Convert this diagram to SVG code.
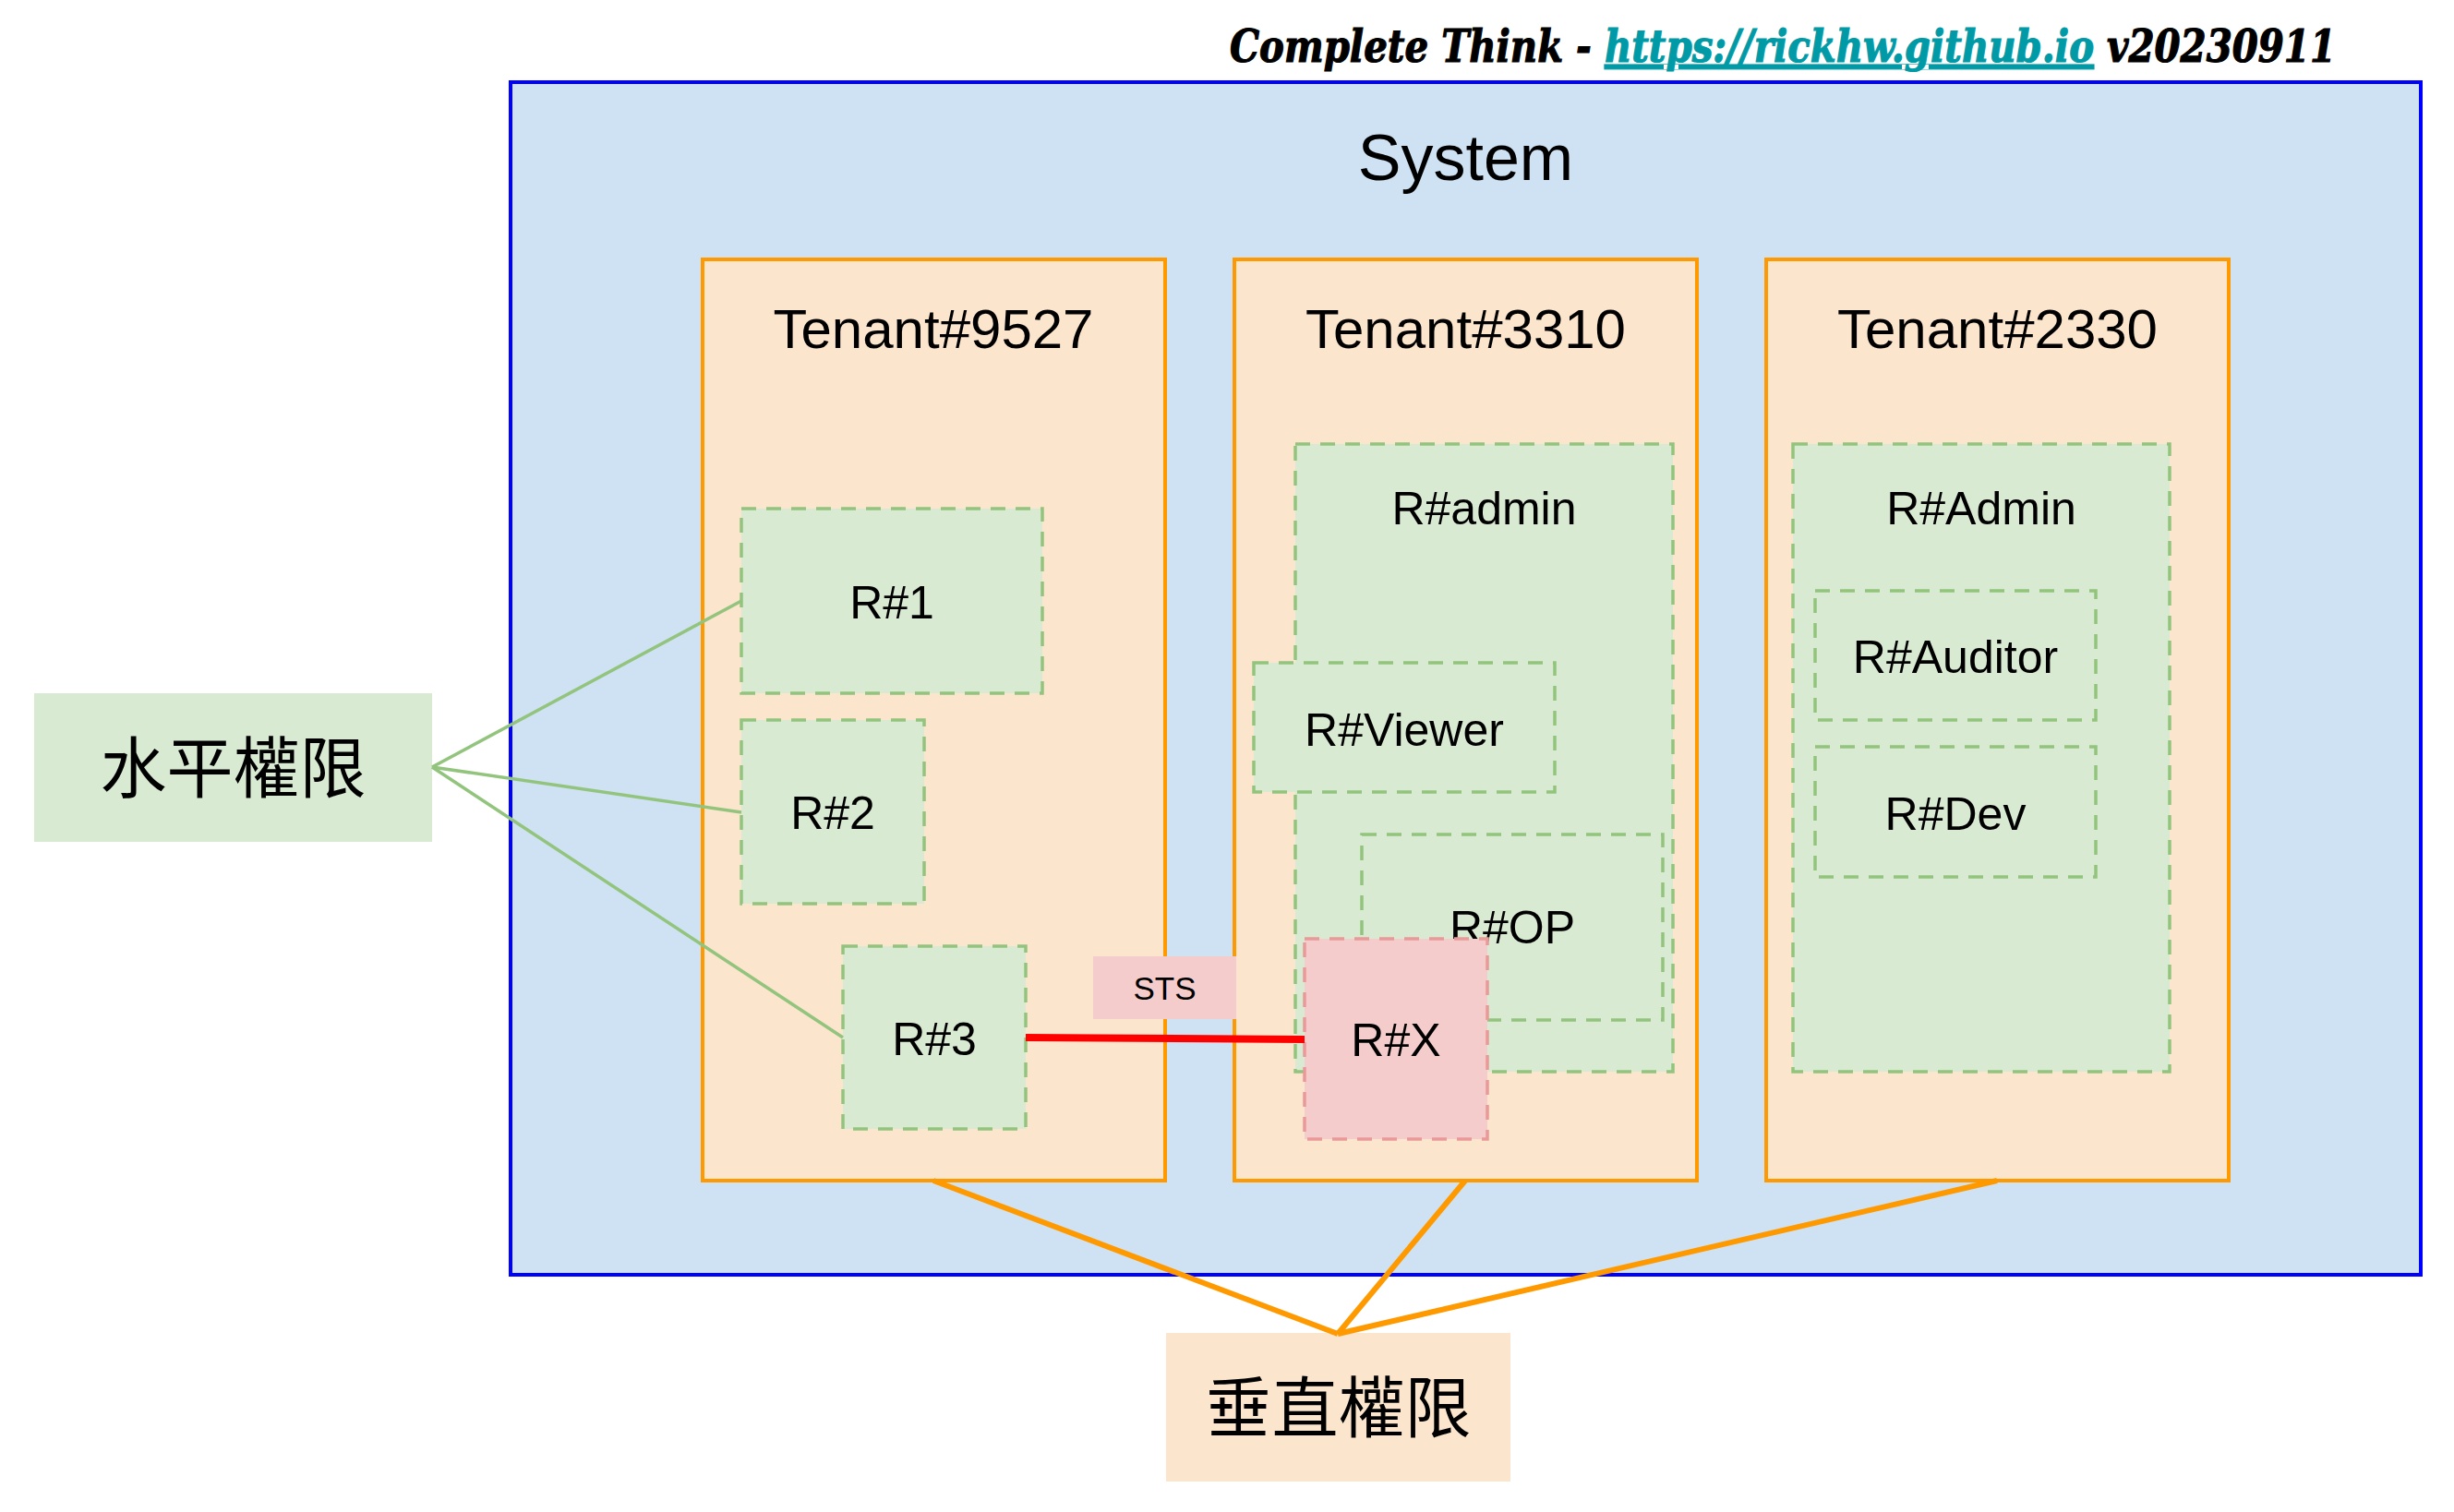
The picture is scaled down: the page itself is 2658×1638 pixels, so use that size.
<svg xmlns="http://www.w3.org/2000/svg" width="2658" height="1638" viewBox="0 0 2658 1638">
<style>
  .lbl { font-family: "Liberation Sans", Arial, sans-serif; fill: #000; text-anchor: middle; }
  .cjk { font-family: "Noto Sans CJK TC", "Noto Sans CJK SC", sans-serif; font-size: 72px; fill: #000; text-anchor: middle; }
  .title { font-family: "DejaVu Serif", serif; font-weight: bold; font-style: italic; font-size: 48px; stroke-width: 1.2; }
  .tenant { fill: #FCE5CD; stroke: #FF9900; stroke-width: 4; }
  .role { fill: #D9EAD3; stroke: #93C47D; stroke-width: 3.5; stroke-dasharray: 16 11; }
  .roleX { fill: #F4CCCC; stroke: #EA9999; stroke-width: 3.5; stroke-dasharray: 16 11; }
  .r { font-size: 50px; }
  .t { font-size: 60px; }
  .green { stroke: #93C47D; stroke-width: 3.5; fill: none; }
  .orange { stroke: #FF9900; stroke-width: 6; fill: none; }
</style>
<rect width="2658" height="1638" fill="#FFFFFF"/>

<g id="title">
  <text class="title" x="1332" y="67" textLength="1198" lengthAdjust="spacingAndGlyphs" fill="#000" stroke="#000">Complete Think - <tspan fill="#009AA6" stroke="#009AA6" text-decoration="underline">https://rickhw.github.io</tspan> v20230911</text>
</g>

<g id="system">
  <rect x="553" y="89" width="2069" height="1292" fill="#CFE2F3" stroke="#0000FF" stroke-width="4"/>
  <text class="lbl" x="1587.5" y="195" font-size="70">System</text>
</g>

<g id="tenant-9527">
  <rect class="tenant" x="761" y="281" width="501" height="998"/>
  <text class="lbl t" x="1011" y="377">Tenant#9527</text>
</g>
<g id="tenant-3310">
  <rect class="tenant" x="1337" y="281" width="501" height="998"/>
  <text class="lbl t" x="1587.5" y="377">Tenant#3310</text>
</g>
<g id="tenant-2330">
  <rect class="tenant" x="1913" y="281" width="501" height="998"/>
  <text class="lbl t" x="2163.5" y="377">Tenant#2330</text>
</g>

<g id="r1">
  <rect class="role" x="803" y="551" width="326" height="200"/>
  <text class="lbl r" x="966" y="670">R#1</text>
</g>
<g id="r2">
  <rect class="role" x="803" y="780" width="198" height="199"/>
  <text class="lbl r" x="902" y="898">R#2</text>
</g>
<g id="r3">
  <rect class="role" x="913" y="1025" width="198" height="198"/>
  <text class="lbl r" x="1012" y="1143">R#3</text>
</g>

<g id="r-admin">
  <rect class="role" x="1403" y="481" width="409" height="680"/>
  <text class="lbl r" x="1607.5" y="568">R#admin</text>
</g>
<g id="r-viewer">
  <rect class="role" x="1358" y="718" width="326" height="140"/>
  <text class="lbl r" x="1521" y="808">R#Viewer</text>
</g>
<g id="r-op">
  <rect class="role" x="1475" y="904" width="326" height="201"/>
  <text class="lbl r" x="1638" y="1022">R#OP</text>
</g>
<g id="r-x">
  <rect class="roleX" x="1413" y="1017" width="198" height="217"/>
  <text class="lbl r" x="1512" y="1144">R#X</text>
</g>

<g id="r-Admin">
  <rect class="role" x="1942" y="481" width="408" height="680"/>
  <text class="lbl r" x="2146" y="568">R#Admin</text>
</g>
<g id="r-auditor">
  <rect class="role" x="1966" y="640" width="304" height="140"/>
  <text class="lbl r" x="2118" y="729">R#Auditor</text>
</g>
<g id="r-dev">
  <rect class="role" x="1966" y="809" width="304" height="141"/>
  <text class="lbl r" x="2118" y="899">R#Dev</text>
</g>

<g id="sts">
  <rect x="1184" y="1036" width="155" height="68" fill="#F4CCCC"/>
  <text class="lbl" x="1261.5" y="1082.5" font-size="35">STS</text>
</g>

<g id="horizontal">
  <rect x="37" y="751" width="431" height="161" fill="#D9EAD3"/>
  <text class="cjk" x="252.5" y="858">水平權限</text>
</g>
<g id="vertical">
  <rect x="1263" y="1444" width="373" height="161" fill="#FCE5CD"/>
  <text class="cjk" x="1449.5" y="1551">垂直權限</text>
</g>

<g id="connectors">
  <line class="green" x1="468" y1="831" x2="803" y2="651"/>
  <line class="green" x1="468" y1="831" x2="803" y2="880"/>
  <line class="green" x1="468" y1="831" x2="913" y2="1124"/>
  <line x1="1111" y1="1124" x2="1413" y2="1126" stroke="#FF0000" stroke-width="8"/>
  <line class="orange" x1="1449" y1="1445" x2="1011" y2="1279"/>
  <line class="orange" x1="1449" y1="1445" x2="1587" y2="1279"/>
  <line class="orange" x1="1449" y1="1445" x2="2163" y2="1279"/>
</g>
</svg>
